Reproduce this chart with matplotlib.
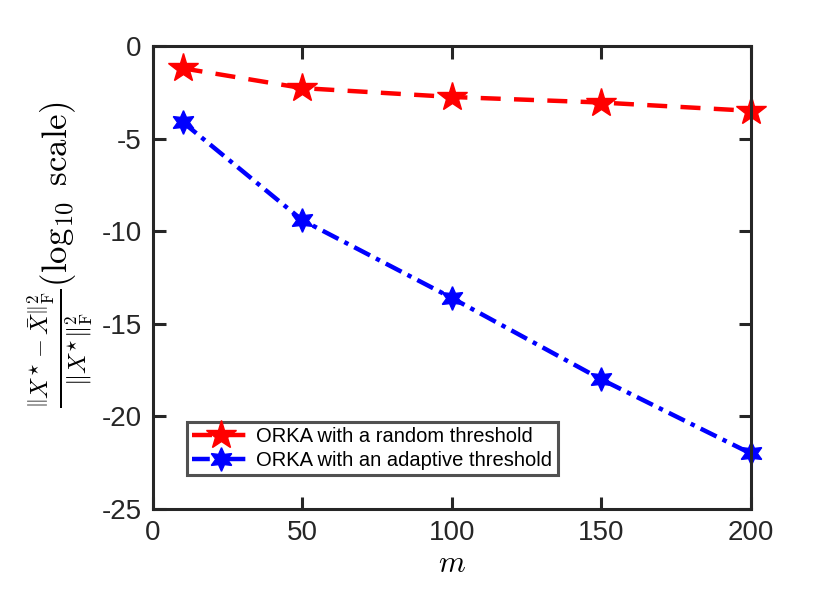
import matplotlib
matplotlib.use("Agg")
from matplotlib import pyplot as plt

m = [10, 50, 100, 150, 200]
err_random = [-1.2, -2.27, -2.75, -3.05, -3.5]
err_adaptive = [-4.1, -9.4, -13.6, -18.0, -22.0]

labels = ["ORKA with a random threshold", "ORKA with an adaptive threshold"]


def main():
    plt.rcParams["font.family"] = ["Liberation Sans", "DejaVu Sans"]
    plt.rcParams["mathtext.fontset"] = "cm"

    fig = plt.figure(figsize=(8.3, 6.02), dpi=100)
    ax = fig.add_axes([0.184, 0.1545, 0.7205, 0.769])

    ax.plot(m, err_random, color="red", linestyle=(0, (4.5, 3)), linewidth=3.2,
            marker="*", markersize=22, markerfacecolor="red",
            markeredgecolor="red", label=labels[0], clip_on=False)
    ax.plot(m, err_adaptive, color="blue", linestyle=(0, (4, 1.5, 1, 1.5)), linewidth=3.2,
            marker=(6, 1, 0), markersize=17, markerfacecolor="blue",
            markeredgecolor="blue", label=labels[1], clip_on=False)

    ax.set_xlim(0, 200)
    ax.set_ylim(-25, 0)
    ax.set_xticks([0, 50, 100, 150, 200])
    ax.set_yticks([-25, -20, -15, -10, -5, 0])
    ax.set_yticklabels(["-25", "-20", "-15", "-10", "-5", "0"])

    for s in ax.spines.values():
        s.set_linewidth(2.2)
        s.set_color("#262626")
    ax.tick_params(direction="in", length=9, width=2.2, color="#262626",
                   labelsize=20, labelcolor="#262626", top=True, right=True, pad=8)

    ax.set_xlabel("$m$", fontsize=22, labelpad=2)
    ax.set_ylabel(r"$\frac{\left\|X^{\star}-\bar{X}\right\|_{\mathrm{F}}^{2}}"
                  r"{\|X^{\star}\|_{\mathrm{F}}^{2}}"
                  r"(\log_{10}\ \mathrm{scale})$", fontsize=25)
    ax.yaxis.set_label_coords(-0.097, 0.55)

    leg = ax.legend(loc="lower left", bbox_to_anchor=(0.057, 0.073, 0.62, 0.124),
                    mode="expand", fontsize=14.5, frameon=True, fancybox=False,
                    handlelength=2.9, handletextpad=0.3, borderpad=0.25,
                    labelspacing=0.25, borderaxespad=0)
    leg.get_frame().set_edgecolor("#262626")
    leg.get_frame().set_linewidth(2.2)

    fig.savefig("out.png", dpi=100)


if __name__ == "__main__":
    main()
